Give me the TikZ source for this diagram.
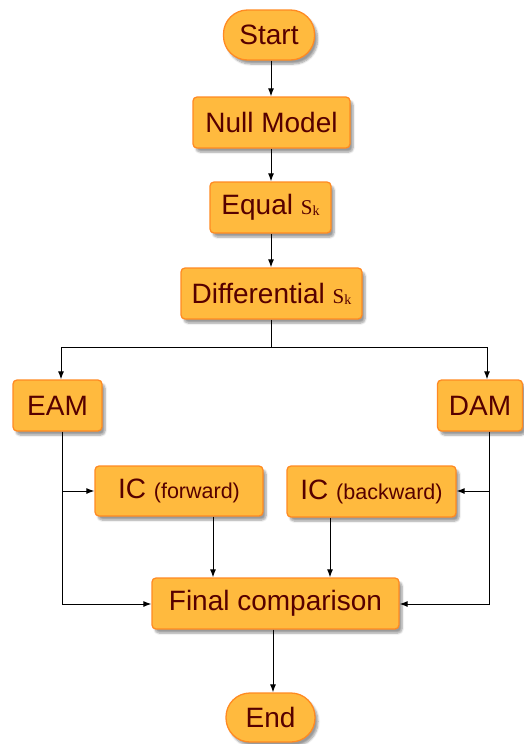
\documentclass[tikz,border=0pt]{standalone}
\usepackage{fontspec}
\setmainfont{Liberation Sans}
\newfontfamily\symfont{Liberation Serif}
\usetikzlibrary{arrows.meta,shadows.blur}
\definecolor{boxfill}{HTML}{FFBA3E}
\definecolor{boxline}{HTML}{FF8A22}
\definecolor{boxtext}{HTML}{560000}
\newcommand{\Sk}{{\symfont\fontsize{21}{22}\selectfont S\raisebox{-1pt}{\fontsize{14}{14}\selectfont k}}}
\tikzset{
  stepbox/.style={draw=boxline, line width=1.3pt, fill=boxfill, rounded corners=4pt,
    text=boxtext, font=\fontsize{28}{30}\selectfont, inner sep=0pt,
    blur shadow={shadow xshift=3pt, shadow yshift=-4pt, shadow blur steps=6, shadow opacity=40}},
  pill/.style={stepbox, rounded corners=24pt},
  flow/.style={line width=1pt, -{Latex[length=8pt,width=6pt]}},
  lane/.style={line width=1pt}
}
\begin{document}
\begin{tikzpicture}[x=1pt,y=-1pt]
\useasboundingbox (0,0) rectangle (524,744);
% steps of the procedure
\node[pill, minimum width=91pt, minimum height=50pt] (start) at (269,35) {Start};
\node[stepbox, minimum width=157pt, minimum height=51pt] (null) at (271.5,122.5) {Null Model};
\node[stepbox, minimum width=121pt, minimum height=51pt] (equal) at (270.5,207.5) {Equal \Sk};
\node[stepbox, minimum width=181pt, minimum height=51pt] (diff) at (271.5,293.5) {Differential \Sk};
\node[stepbox, minimum width=89pt, minimum height=51pt] (eam) at (57.5,405.5) {EAM};
\node[stepbox, minimum width=85pt, minimum height=51pt] (dam) at (480,405.5) {DAM};
\node[stepbox, minimum width=168pt, minimum height=50pt] (icf) at (179,491) {IC {\fontsize{21.5}{24}\selectfont(forward)}};
\node[stepbox, minimum width=169pt, minimum height=51pt] (icb) at (371.5,491.5) {IC {\fontsize{21.5}{24}\selectfont(backward)}};
\node[stepbox, minimum width=247pt, minimum height=51pt] (final) at (275.5,603.5) {Final comparison};
\node[pill, minimum width=89pt, minimum height=49pt] (end) at (270.5,717.5) {End};
% vertical lanes and junctions of the connectors
\coordinate (spine) at (271,0);
\coordinate (fwdX) at (213,0);
\coordinate (bwdX) at (330,0);
\coordinate (endX) at (273,0);
\coordinate (split) at (271,347);
\coordinate (splitL) at (61,347);
\coordinate (splitR) at (487,347);
\coordinate (eamDown) at (62,604);
\coordinate (damDown) at (489,604);
\coordinate (eamMid) at (62,491);
\coordinate (damMid) at (489,491);
% connectors
\draw[flow] (start.south -| spine) -- (null.north -| spine);
\draw[flow] (null.south -| spine) -- (equal.north -| spine);
\draw[flow] (equal.south -| spine) -- (diff.north -| spine);
\draw[lane] (diff.south -| split) -- (split);
\draw[flow] (split) -- (splitL) -- (eam.north -| splitL);
\draw[flow] (split) -- (splitR) -- (dam.north -| splitR);
\draw[flow] (eam.south -| eamDown) -- (eamDown) -- (final.west |- eamDown);
\draw[flow] (dam.south -| damDown) -- (damDown) -- (final.east |- damDown);
\draw[flow] (eamMid) -- (icf.west |- eamMid);
\draw[flow] (damMid) -- (icb.east |- damMid);
\draw[flow] (icf.south -| fwdX) -- (final.north -| fwdX);
\draw[flow] (icb.south -| bwdX) -- (final.north -| bwdX);
\draw[flow] (final.south -| endX) -- (end.north -| endX);
\end{tikzpicture}
\end{document}
